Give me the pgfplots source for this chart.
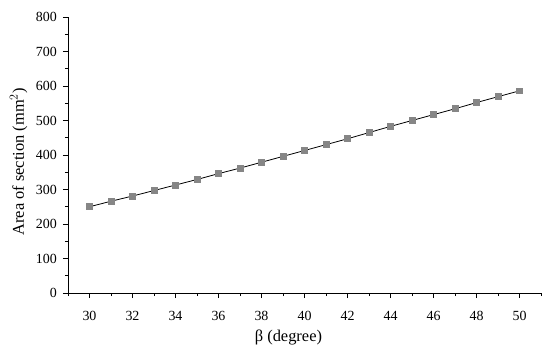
\documentclass[border=0pt]{standalone}
\usepackage{fontspec}
\setmainfont{Liberation Serif}
\usepackage{pgfplots}
\pgfplotsset{compat=1.18}
\begin{document}
\begin{tikzpicture}[x=1bp,y=1bp]
\useasboundingbox (-68bp,-56bp) rectangle (482bp,293bp);
\begin{axis}[
  at={(0,0)}, anchor=origin,
  scale only axis,
  width=473bp, height=276bp,
  xmin=29, xmax=51, ymin=0, ymax=800,
  axis x line*=bottom, axis y line*=left,
  axis line style={-, line width=0.9pt},
  xtick={30,32,...,50}, minor xtick={29,31,...,51},
  ytick={0,100,...,800}, minor ytick={50,150,...,750},
  tick align=outside,
  major tick length=5bp, minor tick length=3bp,
  every tick/.style={black, line width=0.8pt},
  tick label style={font=\fontsize{14}{15}\selectfont, inner sep=0pt},
  xticklabel style={anchor=base, yshift=-22bp},
  yticklabel style={anchor=east, xshift=-6bp},
  /pgf/number format/assume math mode=true,
  xlabel={β (degree)},
  ylabel={Area of section (mm$^2$)},
  label style={font=\fontsize{16.5}{18}\selectfont, inner sep=0pt},
  xlabel style={at={(axis description cs:0.466,-0.176)}, anchor=base},
  ylabel style={at={(axis description cs:-0.1045,0.475)}, anchor=center},
]
\addplot[black, line width=0.8pt, mark=square*, mark size=2.9bp,
  mark options={fill=gray!95!white, draw=gray!95!white}] coordinates {
(30,250) (31,266) (32,281) (33,297) (34,313) (35,329) (36,346) (37,362)
(38,379) (39,396) (40,413) (41,430) (42,447) (43,465) (44,483) (45,500)
(46,517) (47,534) (48,552) (49,569) (50,586)
};
\end{axis}
\end{tikzpicture}
\end{document}
